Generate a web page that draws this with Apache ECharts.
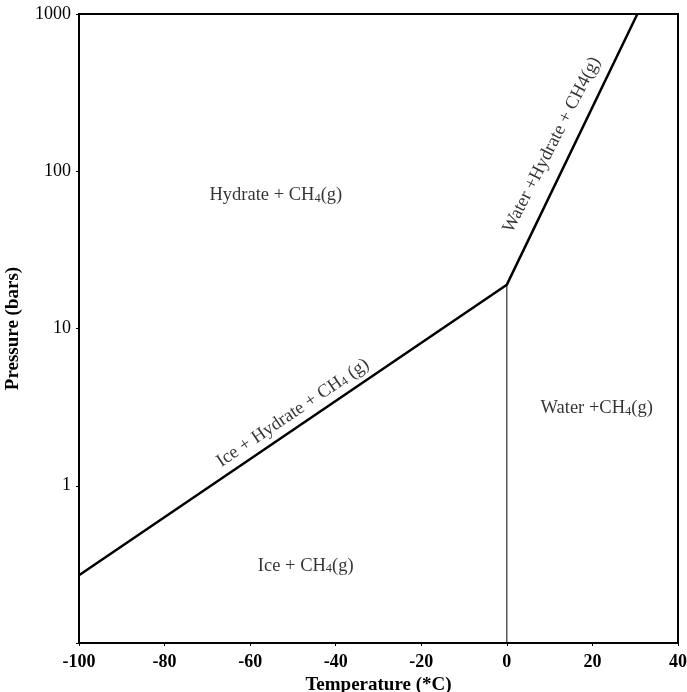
<!DOCTYPE html>
<html>
<head>
<meta charset="utf-8">
<script src="https://cdn.jsdelivr.net/npm/echarts@6/dist/echarts.min.js"></script>
<style>html,body{margin:0;padding:0;background:#fff;}#chart{width:687px;height:692px;}</style>
</head>
<body>
<div id="chart"></div>
<script>
// Phase boundary (Hydrate stability) : temperature (°C) vs pressure (bars)
const boundaryT = [-100, 0, 30.5];
const boundaryP = [0.27, 19, 1000];
// Ice / water line at 0 °C
const meltT = [0, 0];
const meltP = [19, 0.1];
// Axis ticks
const xTicks = [-100, -80, -60, -40, -20, 0, 20, 40];
const yTicks = [1, 10, 100, 1000];
// Region labels
const regionNames = ['Hydrate + CH{s|4}(g)', 'Ice + CH{s|4}(g)', 'Water +CH{s|4}(g)', 'Ice + Hydrate + CH{s|4} (g)', 'Water +Hydrate + CH4(g)'];
const regionT = [-54, -47, 21, -50, 10.5];
const regionP = [70, 0.31, 3.1, 2.9, 147];

const serif = '"Liberation Serif", "DejaVu Serif", serif';
const chart = echarts.init(document.getElementById('chart'));

const angles = [0, 0, 0, 34, 63];
const labelData = regionNames.map((n, i) => ({
  value: [regionT[i], regionP[i]],
  label: {
    show: true,
    position: 'inside',
    rotate: angles[i],
    formatter: '{a|' + n.replace('{s|4}', '}{s|4}{a|') + '}',
    rich: {
      a: {fontFamily: serif, fontSize: 18.5, color: '#000'},
      s: {fontFamily: serif, fontSize: 12.5, color: '#000', verticalAlign: 'bottom'}
    }
  }
}));

chart.setOption({
  animation: false,
  backgroundColor: '#fff',
  grid: {left: 79, right: 9, top: 14, bottom: 49, outerBoundsMode: 'none', containLabel: false,
         show: true, borderColor: '#000', borderWidth: 2},
  xAxis: {
    type: 'value', min: -100, max: 40, interval: 20,
    name: 'Temperature (*C)', nameLocation: 'middle', nameGap: 31,
    nameTextStyle: {fontFamily: serif, fontSize: 19, fontWeight: 'bold', color: '#000'},
    axisLine: {show: true, onZero: false, lineStyle: {color: '#000', width: 2}},
    axisTick: {show: true, length: 3, lineStyle: {color: '#000'}},
    axisLabel: {
      fontFamily: serif, fontSize: 18, fontWeight: 'bold', color: '#000', margin: 10,
      formatter: v => xTicks.includes(v) ? String(v) : ''
    },
    splitLine: {show: false}
  },
  yAxis: {
    type: 'log', logBase: 10, min: 0.1, max: 1000,
    name: 'Pressure (bars)', nameLocation: 'middle', nameGap: 56,
    nameTextStyle: {fontFamily: serif, fontSize: 19, fontWeight: 'bold', color: '#000'},
    axisLine: {show: true, onZero: false, lineStyle: {color: '#000', width: 2}},
    axisTick: {show: true, length: 3, lineStyle: {color: '#000'}},
    minorTick: {show: false},
    axisLabel: {
      fontFamily: serif, fontSize: 18, color: '#000', margin: 8,
      formatter: v => yTicks.some(t => Math.abs(t - v) < 1e-6) ? String(Math.round(v)) : ''
    },
    splitLine: {show: false}
  },
  series: [
    {
      type: 'line', symbol: 'none', silent: true,
      data: boundaryT.map((t, i) => [t, boundaryP[i]]),
      lineStyle: {color: '#000', width: 2.5}
    },
    {
      type: 'line', symbol: 'none', silent: true,
      data: meltT.map((t, i) => [t, meltP[i]]),
      lineStyle: {color: '#000', width: 1}
    },
    {
      type: 'scatter', symbolSize: 0, silent: true,
      data: labelData
    }
  ]
});
</script>
</body>
</html>
